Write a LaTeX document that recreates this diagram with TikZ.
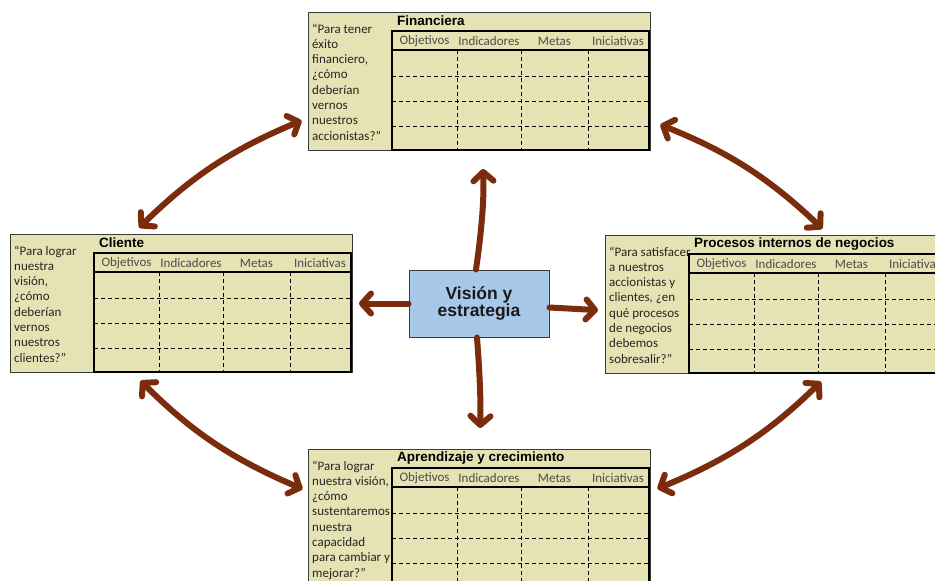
\documentclass[tikz,border=0pt]{standalone}
\usepackage{fontspec}
\setmainfont{Carlito}
\newfontfamily\headfont{Liberation Sans}
\usetikzlibrary{arrows.meta,positioning}
\definecolor{khaki}{HTML}{E5E3B3}
\definecolor{skyfill}{HTML}{A8C8E9}
\definecolor{rust}{HTML}{7A2C0C}
\definecolor{framegray}{HTML}{3A3A3A}

\tikzset{
  panel/.style={draw=framegray,line width=1pt,fill=khaki,minimum width=342pt,minimum height=138pt,inner sep=0pt,anchor=north west},
  ttl/.style={font=\headfont\bfseries\fontsize{13.5}{15}\selectfont,anchor=west,inner sep=0pt},
  qst/.style={font=\fontsize{13}{15.3}\selectfont,align=left,anchor=north west,inner sep=0pt,text=black!85},
  colhead/.style={font=\fontsize{13}{15}\selectfont,text=black!70,inner sep=0pt},
  griddash/.style={dash pattern=on 4pt off 3pt,line width=1pt},
  barb/.tip={Straight Barb[round,length=9pt,width=20pt]},
  arr/.style={rust,line width=6pt,line cap=round,-barb},
  dblarr/.style={arr,barb-barb},
}

\begin{document}
\begin{tikzpicture}[x=1pt,y=-1pt]
  \fill[white] (0,0) rectangle (935,581);
  \useasboundingbox (0,0) rectangle (935,581);

  % the four perspectives
  \foreach \nm/\px/\py/\ttl/\qst in {
      fin/308/12/Financiera/{“Para tener\\éxito\\financiero,\\¿cómo\\deberían\\vernos\\nuestros\\accionistas?”},
      cli/10/234/Cliente/{“Para lograr\\nuestra\\visión,\\¿cómo\\deberían\\vernos\\nuestros\\clientes?”},
      pro/605/235/Procesos internos de negocios/{“Para satisfacer\\a nuestros\\accionistas y\\clientes, ¿en\\qué procesos\\de negocios\\debemos\\sobresalir?”},
      apr/308/449/Aprendizaje y crecimiento/{“Para lograr\\nuestra visión,\\¿cómo\\sustentaremos\\nuestra\\capacidad\\para cambiar y\\mejorar?”}} {
    \node[panel] (\nm) at (\px,\py) {};
    \node[ttl] (\nm-ttl) at (\px+89,\py+9) {\ttl};
    \node[qst] (\nm-q) at (\px+4,\py+11.5) {\qst};
    % table
    \foreach \cx in {149,213,280}
      \draw[griddash] (\px+\cx,\py+38) -- (\px+\cx,\py+138);
    \foreach \ry in {64,89,114}
      \draw[griddash] (\px+84,\py+\ry) -- (\px+341,\py+\ry);
    \draw[line width=1.5pt] (\px+84,\py+19) rectangle (\px+341,\py+138);
    \draw[line width=1.5pt] (\px+84,\py+38) -- (\px+341,\py+38);
    \node[colhead] (\nm-c1) at (\px+116.5,\py+29.5) {Objetivos};
    \node[colhead] (\nm-c2) at (\px+181,\py+29.5) {Indicadores};
    \node[colhead] (\nm-c3) at (\px+246.5,\py+29.5) {Metas};
    \node[colhead] (\nm-c4) at (\px+310,\py+29.5) {Iniciativas};
  }

  \node[draw=framegray,line width=1pt,fill=skyfill,minimum width=140pt,minimum height=67pt,
        font=\headfont\bfseries\fontsize{17.5}{17}\selectfont,align=center,text=black!90] (vis) at (479,303.5) {Visión y\\estrategia};

  % arrows from the centre
  \draw[arr,shorten >=18pt] ([xshift=-3pt]vis.north) to[bend right=5] ([xshift=3pt]fin.south);
  \draw[arr,shorten >=21pt] ([xshift=-2pt]vis.south) to[bend left=3] (apr.north);
  \draw[arr,shorten >=6pt] (vis.west) to (cli.east);
  \draw[arr,shorten >=7pt] ([yshift=-4pt]vis.east) to ([yshift=-6pt]pro.west);

  % arrows round the ring
  \draw[dblarr,shorten <=9pt,shorten >=7pt] (cli.125) to[bend left=11] (fin.192);
  \draw[dblarr,shorten <=10pt,shorten >=9pt] (fin.347) to[bend left=11] (pro.53);
  \draw[dblarr,shorten <=11pt,shorten >=6pt] (cli.235) to[bend right=11] (apr.171);
  \draw[dblarr,shorten <=7pt,shorten >=11pt] (apr.9) to[bend right=11] (pro.307);
\end{tikzpicture}
\end{document}
